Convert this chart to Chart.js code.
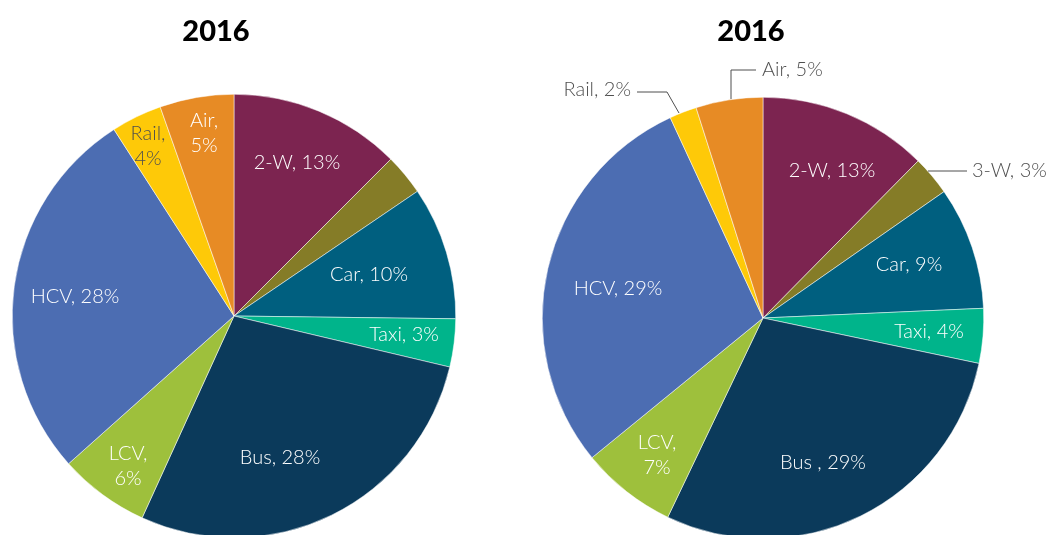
<!DOCTYPE html>
<html>
<head>
<meta charset="utf-8">
<script src="https://cdn.jsdelivr.net/npm/chart.js@4.4.1/dist/chart.umd.min.js"></script>
<style>
  html, body { margin: 0; padding: 0; background: #fff; overflow: hidden; width: 1048px; height: 535px; }
  .pane { position: absolute; top: 0; width: 524px; height: 540px; }
</style>
</head>
<body>
<div class="pane" style="left:0"><canvas id="pieLeft" width="524" height="540"></canvas></div>
<div class="pane" style="left:524px"><canvas id="pieRight" width="524" height="540"></canvas></div>
<script>
// categories, same order on both pies (clockwise from 12 o'clock)
const categories = ['2-W', '3-W', 'Car', 'Taxi', 'Bus', 'LCV', 'HCV', 'Rail', 'Air'];

// shares (%)
const sharesLeft  = [12.5, 3.0, 9.7, 3.5, 28.1, 6.6, 27.5, 3.7, 5.4];
const sharesRight = [12.4, 2.9, 9.0, 4.0, 28.8, 7.0, 29.0, 2.0, 4.9];

// printed labels (null = no label)
const labelsLeft  = ['2-W, 13%', null, 'Car, 10%', 'Taxi, 3%', 'Bus, 28%', 'LCV,\n6%', 'HCV, 28%', 'Rail,\n4%', 'Air,\n5%'];
const labelsRight = ['2-W, 13%', '3-W, 3%', 'Car, 9%', 'Taxi, 4%', 'Bus , 29%', 'LCV,\n7%', 'HCV, 29%', 'Rail, 2%', 'Air, 5%'];

const titles = ['2016', '2016'];

const sliceColors = ['#7c2450', '#857c27', '#005f7f', '#00b48b', '#0b3a5b', '#9ec03c', '#4c6db2', '#fec908', '#e78b25'];

const LABEL_FONT = '300 20px Lato, "Open Sans", sans-serif';
const TITLE_FONT = '900 29px Lato, "Open Sans", sans-serif';
const GREY = '#4f4f4f';

// label placement relative to the pie centre: [dx, dy, align, colour, leader points]
const layoutLeft = [
    [63, -153, 'center', '#fff'],
    null,
    [135, -41, 'center', '#fff'],
    [170, 19, 'center', '#fff'],
    [46, 142, 'center', '#fff'],
    [-106, 150, 'center', '#fff'],
    [-159, -19, 'center', '#fff'],
    [-86, -170, 'center', GREY],
    [-30, -183, 'center', '#fff'],
];
const layoutRight = [
    [69, -147, 'center', '#fff'],
    [209, -147, 'left', GREY, [[165, -147], [204, -147]]],
    [146, -53, 'center', '#fff'],
    [166, 14, 'center', '#fff'],
    [60, 145, 'center', '#fff'],
    [-106, 137, 'center', '#fff'],
    [-145, -29, 'center', '#fff'],
    [-132, -228, 'right', GREY, [[-126, -226], [-96, -226], [-84, -205]]],
    [-1, -248, 'left', GREY, [[-7, -248], [-32, -248], [-32, -219]]],
];

const pieLabels = {
    id: 'pieLabels',
    afterDraw(chart, args, opts) {
        const ctx = chart.ctx;
        const arc = chart.getDatasetMeta(0).data[0];
        const cx = arc.x, cy = arc.y;

        ctx.save();
        // title
        ctx.font = TITLE_FONT;
        ctx.fillStyle = '#000';
        ctx.textAlign = 'center';
        ctx.textBaseline = 'middle';
        ctx.fillText(opts.title, opts.titleX, 32);

        ctx.font = LABEL_FONT;
        opts.texts.forEach((txt, i) => {
            const lay = opts.layout[i];
            if (!txt || !lay) return;
            const [dx, dy, align, color, leader] = lay;
            if (leader) {
                ctx.strokeStyle = GREY;
                ctx.lineWidth = 1;
                ctx.beginPath();
                leader.forEach((p, k) => {
                    if (k === 0) ctx.moveTo(cx + p[0], cy + p[1]);
                    else ctx.lineTo(cx + p[0], cy + p[1]);
                });
                ctx.stroke();
            }
            ctx.fillStyle = color;
            ctx.textAlign = align;
            const lines = txt.split('\n');
            const lh = 25;
            lines.forEach((ln, k) => {
                ctx.fillText(ln, cx + dx, cy + dy + (k - (lines.length - 1) / 2) * lh);
            });
        });
        ctx.restore();
    }
};

function makePie(id, shares, texts, layout, title, titleX, padding) {
    return new Chart(document.getElementById(id), {
        type: 'pie',
        data: {
            labels: categories,
            datasets: [{
                data: shares,
                backgroundColor: sliceColors,
                borderColor: '#ffffff',
                borderWidth: 0.5,
            }]
        },
        options: {
            responsive: false,
            animation: false,
            layout: { padding: padding },
            plugins: {
                legend: { display: false },
                tooltip: { enabled: false },
                title: { display: false },
                pieLabels: { texts: texts, layout: layout, title: title, titleX: titleX },
            }
        },
        plugins: [pieLabels]
    });
}

makePie('pieLeft', sharesLeft, labelsLeft, layoutLeft, titles[0], 216,
        { top: 94, bottom: 2, left: 12, right: 68 });
makePie('pieRight', sharesRight, labelsRight, layoutRight, titles[1], 227,
        { top: 97, bottom: 1, left: 18, right: 64 });
</script>
</body>
</html>
